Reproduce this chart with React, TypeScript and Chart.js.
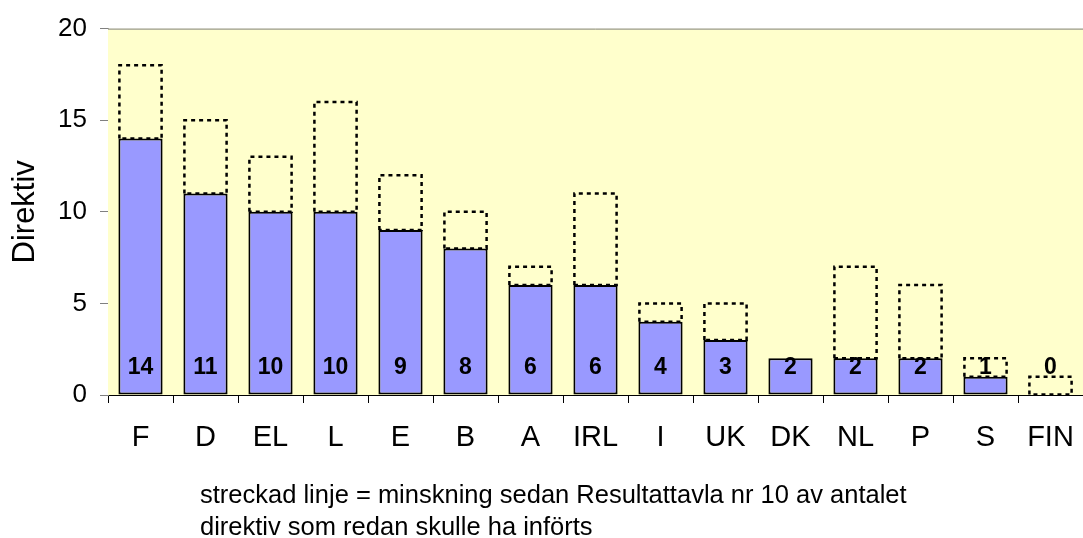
import React, { useEffect, useRef } from "react";
import { Chart, registerables } from "chart.js";

Chart.register(...registerables);

const categories = ["F", "D", "EL", "L", "E", "B", "A", "IRL", "I", "UK", "DK", "NL", "P", "S", "FIN"];
const currentValues = [14, 11, 10, 10, 9, 8, 6, 6, 4, 3, 2, 2, 2, 1, 0];
const previousValues: (number | null)[] = [18, 15, 13, 16, 12, 10, 7, 11, 5, 5, null, 7, 6, 2, 1];
const yTicks = [0, 5, 10, 15, 20];
const yTitle = "Direktiv";
const noteLines = [
  "streckad linje = minskning sedan Resultattavla nr 10 av antalet",
  "direktiv som redan skulle ha införts",
];

const FONT = "'Liberation Sans', Arial, sans-serif";

const decorPlugin = {
  id: "decor",
  beforeDatasetsDraw(chart: any) {
    const { ctx, chartArea } = chart;
    ctx.save();
    ctx.fillStyle = "#FFFFCC";
    ctx.fillRect(chartArea.left, chartArea.top, chartArea.right - chartArea.left, chartArea.bottom - chartArea.top);
    ctx.strokeStyle = "#808080";
    ctx.lineWidth = 1;
    ctx.beginPath();
    ctx.moveTo(chartArea.left, chartArea.top + 0.5);
    ctx.lineTo(chartArea.right, chartArea.top + 0.5);
    ctx.stroke();
    ctx.restore();
  },
  afterDatasetsDraw(chart: any) {
    const { ctx } = chart;
    const meta = chart.getDatasetMeta(1);
    ctx.save();
    ctx.strokeStyle = "#000";
    ctx.lineWidth = 2.5;
    ctx.setLineDash([4, 4]);
    meta.data.forEach((el: any, i: number) => {
      if (previousValues[i] == null) return;
      const p = el.getProps(["x", "y", "base", "width"], true);
      const left = p.x - p.width / 2 + 1;
      const right = p.x + p.width / 2 - 1;
      const top = Math.min(p.y, p.base);
      const bottom = Math.max(p.y, p.base);
      ctx.beginPath();
      ctx.moveTo(left, bottom);
      ctx.lineTo(left, top);
      ctx.lineTo(right, top);
      ctx.lineTo(right, bottom);
      ctx.lineTo(left, bottom);
      ctx.stroke();
    });
    ctx.setLineDash([]);
    const m0 = chart.getDatasetMeta(0);
    const yScale = chart.scales.y;
    ctx.fillStyle = "#000";
    ctx.font = `bold 23px ${FONT}`;
    ctx.textAlign = "center";
    ctx.textBaseline = "middle";
    m0.data.forEach((el: any, i: number) => {
      ctx.fillText(String(currentValues[i]), el.x, yScale.getPixelForValue(0) - 27);
    });
    ctx.restore();
  },
  afterDraw(chart: any) {
    const { ctx } = chart;
    ctx.save();
    ctx.fillStyle = "#000";
    ctx.font = `25.5px ${FONT}`;
    ctx.textAlign = "left";
    ctx.textBaseline = "alphabetic";
    ctx.fillText(noteLines[0], 200, 503);
    ctx.fillText(noteLines[1], 200, 535);
    ctx.restore();
  },
};

export default function App() {
  const ref = useRef<HTMLCanvasElement | null>(null);
  useEffect(() => {
    if (!ref.current) return;
    const chart = new Chart(ref.current, {
      type: "bar",
      data: {
        labels: categories,
        datasets: [
          {
            data: currentValues,
            backgroundColor: "#9999FF",
            borderColor: "#000",
            borderWidth: 2,
            borderSkipped: false,
            grouped: false,
            barPercentage: 0.68,
            categoryPercentage: 1,
          } as any,
          {
            data: previousValues.map((p, i) => (p == null ? null : [currentValues[i], p])),
            backgroundColor: "rgba(0,0,0,0)",
            borderWidth: 0,
            grouped: false,
            barPercentage: 0.68,
            categoryPercentage: 1,
          } as any,
        ],
      },
      options: {
        responsive: false,
        animation: false,
        layout: { padding: { top: 26, right: 0, left: 0, bottom: 0 } },
        plugins: { legend: { display: false }, tooltip: { enabled: false } },
        scales: {
          x: {
            grid: { offset: true, drawOnChartArea: false, drawTicks: true, tickLength: 8, color: "#000" },
            border: { color: "#000", width: 1 },
            ticks: { color: "#000", font: { family: FONT, size: 29 }, padding: 18, maxRotation: 0, autoSkip: false },
            afterFit: (s: any) => {
              s.height = 143;
              s.paddingLeft = 0;
              s.paddingRight = 0;
            },
          },
          y: {
            min: 0,
            max: 20,
            afterBuildTicks: (s: any) => {
              s.ticks = yTicks.map((v) => ({ value: v }));
            },
            grid: { drawOnChartArea: false, drawTicks: true, tickLength: 8, color: "#808080" },
            border: { color: "#808080", width: 1 },
            ticks: { color: "#000", font: { family: FONT, size: 26 }, padding: 13 },
            title: { display: true, text: yTitle, color: "#000", font: { family: FONT, size: 31 }, padding: { top: 7, bottom: 0 } },
            afterFit: (s: any) => {
              s.width = 108;
            },
          },
        },
      },
      plugins: [decorPlugin],
    });
    return () => chart.destroy();
  }, []);
  return (
    <div style={{ position: "fixed", left: 0, top: 0, width: 1083, height: 538, background: "#fff" }}>
      <canvas ref={ref} width={1083} height={538} />
    </div>
  );
}
